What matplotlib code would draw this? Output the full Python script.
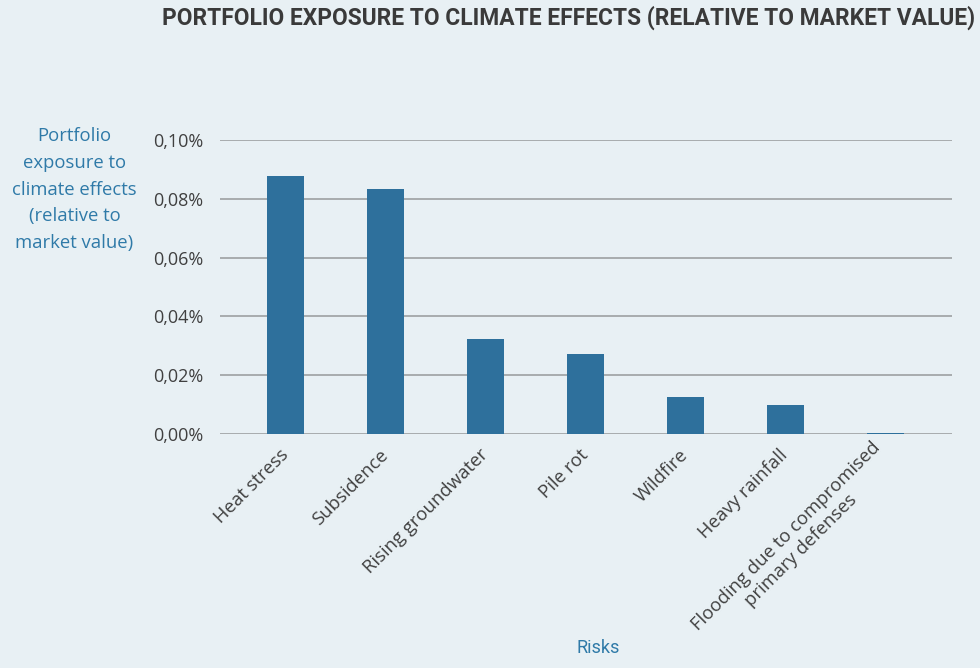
import matplotlib
matplotlib.use("Agg")
import matplotlib.pyplot as plt
from matplotlib.ticker import FuncFormatter

# exposure per risk, in % of market value
risks = ["Heat stress", "Subsidence", "Rising groundwater", "Pile rot", "Wildfire",
         "Heavy rainfall", "Flooding due to compromised\nprimary defenses"]
exposure = [0.0878, 0.0833, 0.0323, 0.0272, 0.0126, 0.0099, 0.0004]
y_ticks = [0.00, 0.02, 0.04, 0.06, 0.08, 0.10]

BG = "#e8f0f4"
BAR = "#2e709c"
BLUE = "#2f7aa8"
GREY_TXT = "#404040"

plt.rcParams["font.family"] = ["Open Sans", "DejaVu Sans"]

fig = plt.figure(figsize=(9.8, 6.68), dpi=100, facecolor=BG)
ax = fig.add_axes([0.2245, 0.3503, 0.747, 0.4401], facecolor=BG)

x = range(len(risks))
ax.bar(x, exposure, width=0.37, color=BAR, zorder=3)

ax.set_ylim(0, 0.10)
ax.set_xlim(-0.66, len(risks) - 0.33)
ax.set_yticks(y_ticks)
ax.yaxis.set_major_formatter(FuncFormatter(lambda v, _: f"{v:.2f}%".replace(".", ",")))
ax.grid(axis="y", color="#a3a6a8", linewidth=1.3, zorder=0)
ax.tick_params(axis="y", length=0, pad=12, labelsize=13, labelcolor=GREY_TXT)
ax.tick_params(axis="x", length=0, pad=13)
for s in ax.spines.values():
    s.set_visible(False)

ax.set_xticks(list(x))
ax.set_xticklabels(risks, rotation=45, ha="right", va="center", rotation_mode="anchor",
                   fontsize=13.3, color=GREY_TXT, multialignment="center")

fig.text(0.076, 0.81, "Portfolio\nexposure to\nclimate effects\n(relative to\nmarket value)",
         ha="center", va="top", fontsize=13.3, color=BLUE, linespacing=1.63)
fig.text(0.61, 0.0165, "Risks", ha="center", va="bottom", fontsize=13, color=BLUE,
         family=["Roboto", "DejaVu Sans"])
fig.text(0.995, 0.9626, "PORTFOLIO EXPOSURE TO CLIMATE EFFECTS (RELATIVE TO MARKET VALUE)",
         ha="right", va="baseline", fontsize=16.4, fontweight="bold", color="#3a3a3a",
         family=["Roboto", "DejaVu Sans"])

fig.savefig("out.png", dpi=100, facecolor=BG)
